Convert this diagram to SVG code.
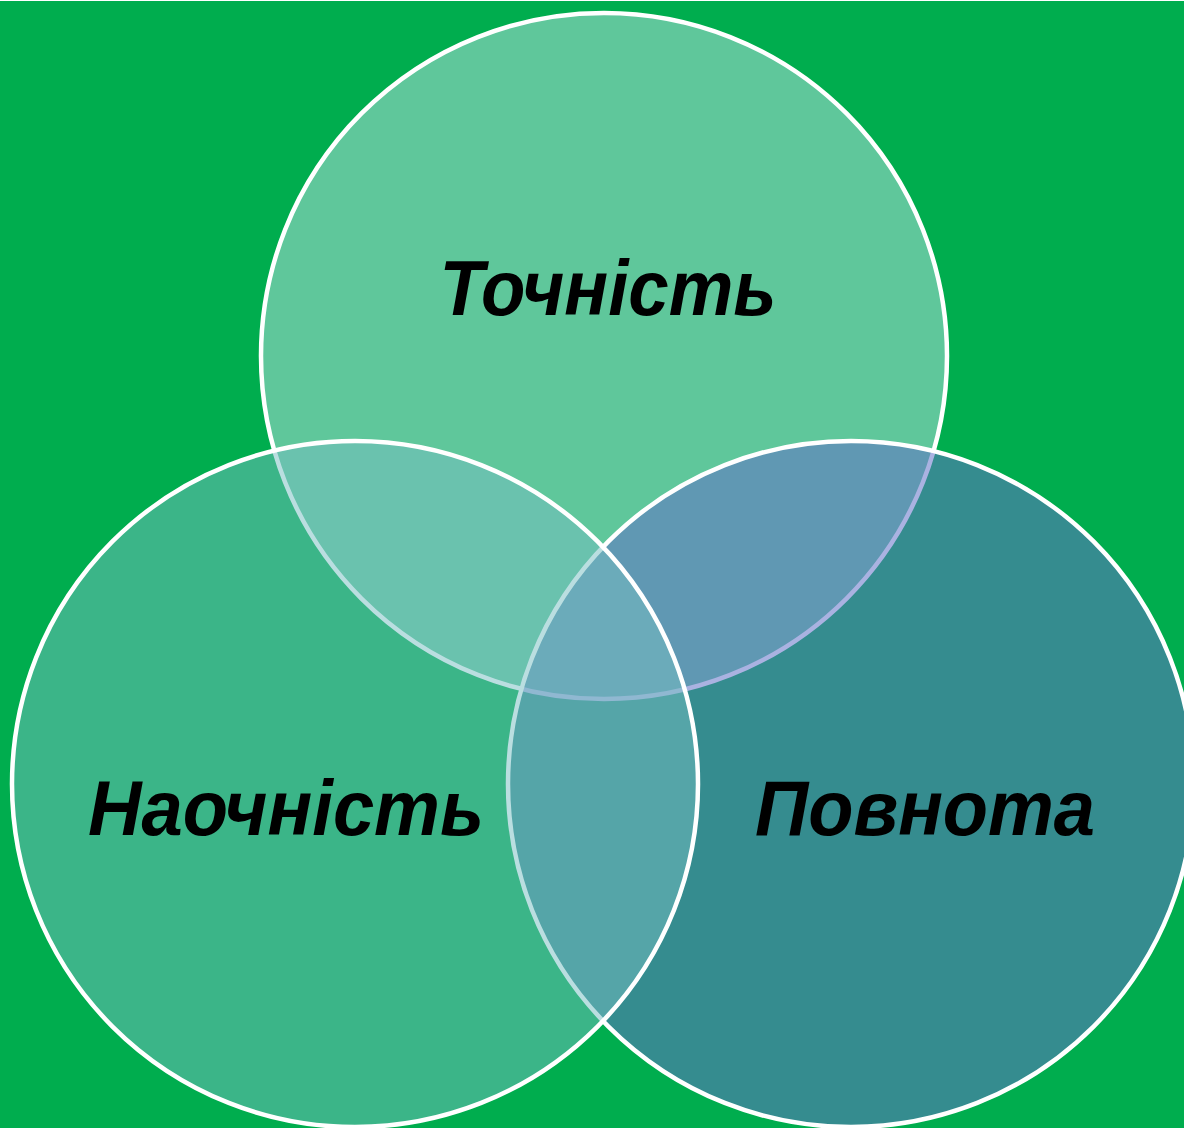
<svg xmlns="http://www.w3.org/2000/svg" width="1184" height="1128" viewBox="0 0 1184 1128">
<style>
.c{stroke:#ffffff;stroke-width:4.5}
.t{font-family:"Liberation Sans",Arial,sans-serif;font-weight:bold;font-style:italic;font-size:78px;fill:#000000;text-anchor:middle}
</style>
<rect x="0" y="0" width="1184" height="1128" fill="#00AD4E"/>
<line x1="0" y1="0.5" x2="1184" y2="0.5" stroke="#ffffff" stroke-width="1"/>
<g id="node-tochnist">
<circle class="c" cx="604" cy="356" r="343" fill="#5FC79B"/>
</g>
<g id="node-povnota">
<circle class="c" cx="851" cy="784" r="343" fill="rgb(98,112,200)" fill-opacity="0.54"/>
</g>
<g id="node-naochnist">
<circle class="c" cx="355" cy="784" r="343" fill="rgb(118,189,194)" fill-opacity="0.5"/>
</g>
<g id="connectors"></g>
<g id="labels">
<text class="t" x="608" y="315" textLength="337" lengthAdjust="spacingAndGlyphs">Точність</text>
<text class="t" x="286" y="835" textLength="396" lengthAdjust="spacingAndGlyphs">Наочність</text>
<text class="t" x="925" y="835" textLength="340" lengthAdjust="spacingAndGlyphs">Повнота</text>
</g>
</svg>
